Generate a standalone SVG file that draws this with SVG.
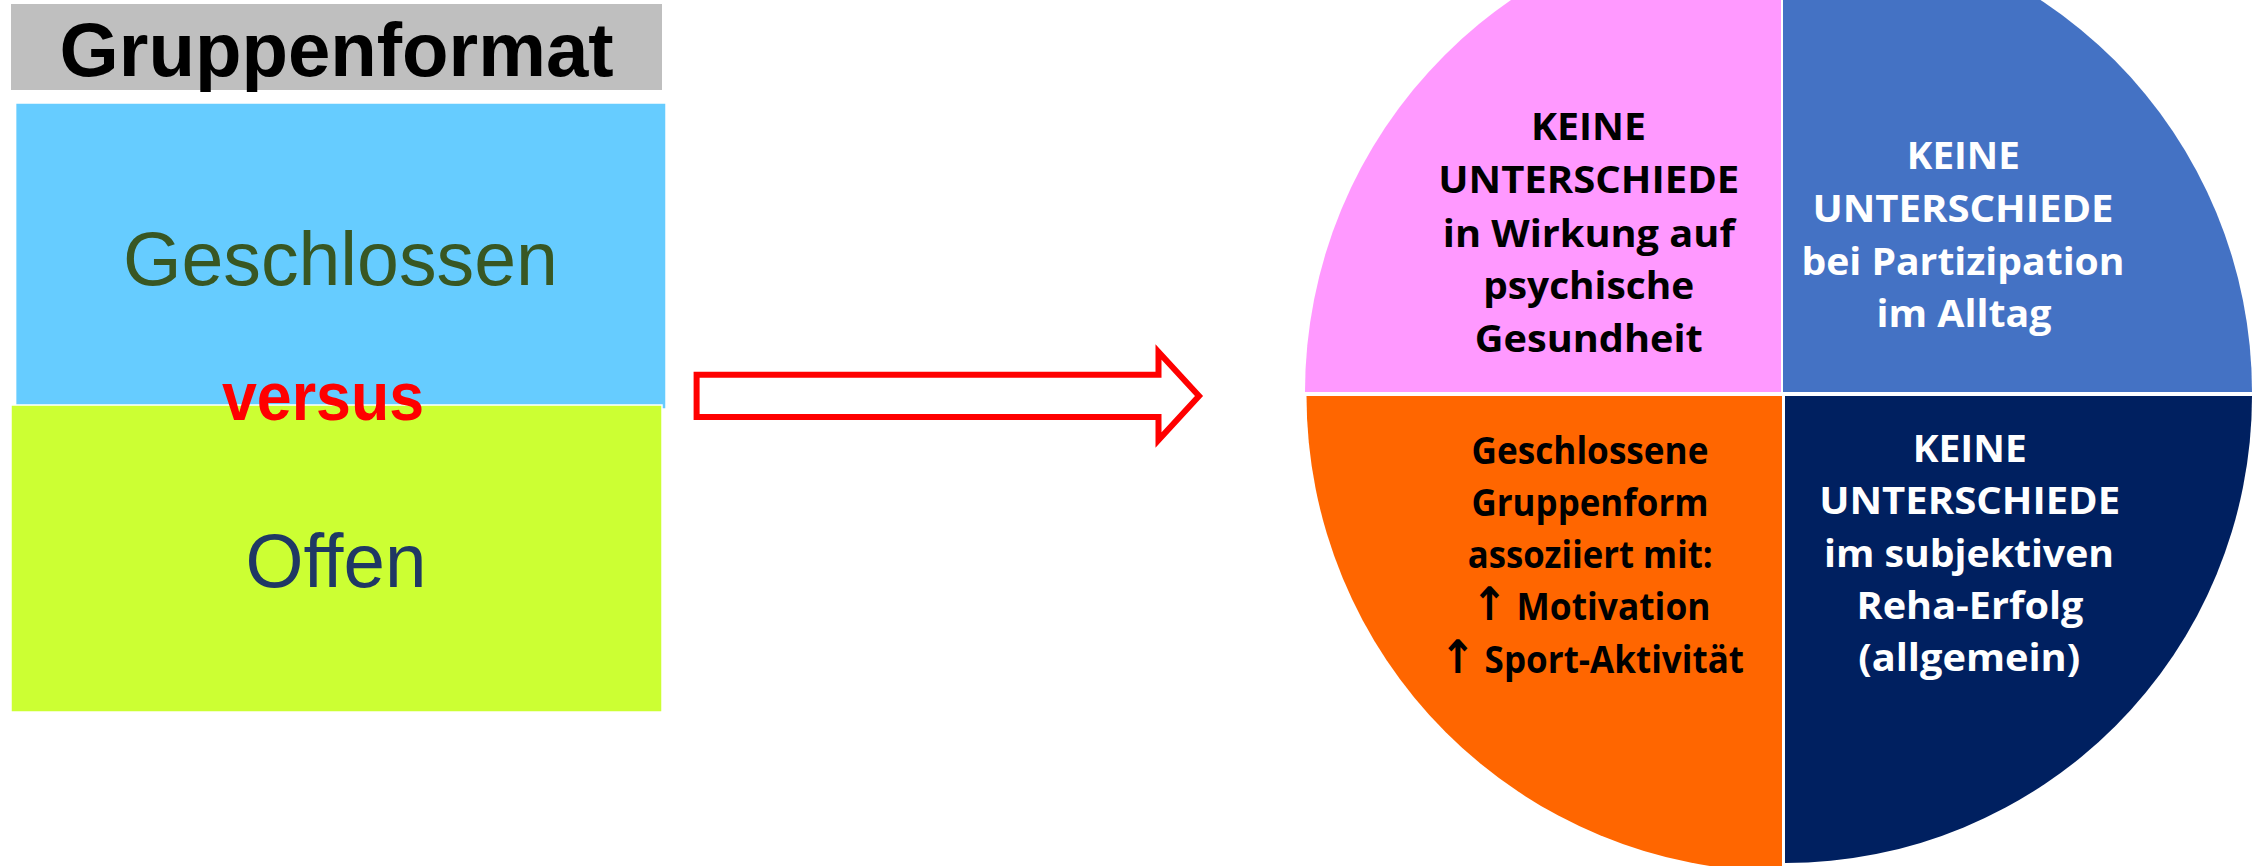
<svg xmlns="http://www.w3.org/2000/svg" width="2257" height="866" viewBox="0 0 2257 866">
<style>
.lt{font-family:"Liberation Sans",Arial,sans-serif;text-anchor:middle}
.q{font-family:"Open Sans","DejaVu Sans",sans-serif;font-weight:bold;font-size:38px;text-anchor:middle}
.ar{font-family:"DejaVu Sans",sans-serif;font-weight:bold;font-size:46px}
.dk{fill:#000}
.wh{fill:#fff}
</style>
<rect width="2257" height="866" fill="#fff"/>
<g id="title">
<rect x="11" y="4" width="651" height="86" fill="#BFBFBF"/>
<text class="lt" x="336.6" y="76" font-size="76" font-weight="bold" fill="#000" textLength="554" lengthAdjust="spacingAndGlyphs">Gruppenformat</text>
</g>
<g id="geschlossen">
<rect x="15.6" y="103" width="650.4" height="306" fill="#66CCFF" stroke="#fff" stroke-width="1.5"/>
<text class="lt" x="340.4" y="285" font-size="76" fill="#385723" textLength="435" lengthAdjust="spacingAndGlyphs">Geschlossen</text>
</g>
<g id="offen">
<rect x="11" y="405" width="651" height="307" fill="#CCFF33" stroke="#fff" stroke-width="1.5"/>
<text class="lt" x="336" y="587" font-size="76" fill="#1F3864" textLength="181" lengthAdjust="spacingAndGlyphs">Offen</text>
</g>
<g id="versus">
<text class="lt" x="323" y="420" font-size="69" font-weight="bold" fill="#FF0000" textLength="202" lengthAdjust="spacingAndGlyphs">versus</text>
</g>
<g id="connectors">
<polygon points="696.6,374.7 1158.5,374.7 1158.5,352 1199,396 1158.5,440 1158.5,417 696.6,417" fill="#fff" stroke="#FF0000" stroke-width="6"/>
</g>
<g id="q-psychisch">
<path d="M1781,392 L1305,392 A476,476 0 0 1 1781,-84 Z" fill="#FF99FF"/>
<text class="q dk" x="1588.5" y="140" textLength="115" lengthAdjust="spacingAndGlyphs">KEINE</text>
<text class="q dk" x="1588.8" y="193" textLength="301" lengthAdjust="spacingAndGlyphs">UNTERSCHIEDE</text>
<text class="q dk" x="1588.8" y="246.5" textLength="292" lengthAdjust="spacingAndGlyphs">in Wirkung auf</text>
<text class="q dk" x="1588.7" y="298.5" textLength="211" lengthAdjust="spacingAndGlyphs">psychische</text>
<text class="q dk" x="1588.8" y="351.7" textLength="228" lengthAdjust="spacingAndGlyphs">Gesundheit</text>
</g>
<g id="q-partizipation">
<path d="M1783,392 L1783,-77 A469,469 0 0 1 2252,392 Z" fill="#4472C4"/>
<text class="q wh" x="1963.3" y="169.3" textLength="113" lengthAdjust="spacingAndGlyphs">KEINE</text>
<text class="q wh" x="1963" y="221.7" textLength="301" lengthAdjust="spacingAndGlyphs">UNTERSCHIEDE</text>
<text class="q wh" x="1963" y="275" textLength="323" lengthAdjust="spacingAndGlyphs">bei Partizipation</text>
<text class="q wh" x="1964" y="327" textLength="175" lengthAdjust="spacingAndGlyphs">im Alltag</text>
</g>
<g id="q-geschlossen">
<path d="M1782,396 L1782,871.5 A475.5,475.5 0 0 1 1306.5,396 Z" fill="#FF6600"/>
<text class="q dk" x="1590" y="463.5" textLength="237" lengthAdjust="spacingAndGlyphs">Geschlossene</text>
<text class="q dk" x="1590" y="516" textLength="237" lengthAdjust="spacingAndGlyphs">Gruppenform</text>
<text class="q dk" x="1590.2" y="568" textLength="245" lengthAdjust="spacingAndGlyphs">assoziiert mit:</text>
<text class="q dk" x="1591" y="620.4" textLength="239" lengthAdjust="spacingAndGlyphs"><tspan class="ar">↑</tspan> Motivation</text>
<text class="q dk" x="1592" y="672.7" textLength="304" lengthAdjust="spacingAndGlyphs"><tspan class="ar">↑</tspan> Sport-Aktivität</text>
</g>
<g id="q-reha">
<path d="M1785,396 L2252,396 A467,467 0 0 1 1785,863 Z" fill="#002060"/>
<text class="q wh" x="1969.7" y="461.7" textLength="114" lengthAdjust="spacingAndGlyphs">KEINE</text>
<text class="q wh" x="1969.7" y="513.5" textLength="301" lengthAdjust="spacingAndGlyphs">UNTERSCHIEDE</text>
<text class="q wh" x="1969" y="566.5" textLength="290" lengthAdjust="spacingAndGlyphs">im subjektiven</text>
<text class="q wh" x="1970" y="619" textLength="227" lengthAdjust="spacingAndGlyphs">Reha-Erfolg</text>
<text class="q wh" x="1969.2" y="670.5" textLength="222" lengthAdjust="spacingAndGlyphs">(allgemein)</text>
</g>
</svg>
